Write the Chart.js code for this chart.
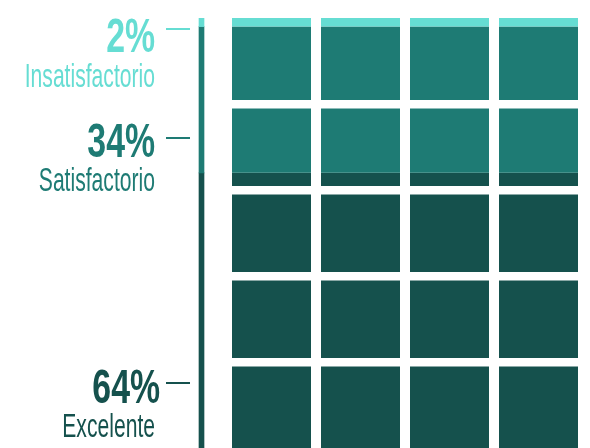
<!DOCTYPE html>
<html><head><meta charset="utf-8">
<script src="https://cdn.jsdelivr.net/npm/chart.js@4.4.1/dist/chart.umd.min.js"></script>
<style>
html,body{margin:0;padding:0;background:#fff;overflow:hidden}
#wrap{position:relative;width:590px;height:448px}
#left{position:absolute;left:0;top:0}
#grid{position:absolute;left:215px;top:0}
</style></head><body>
<div id="wrap"><canvas id="left" width="213" height="448"></canvas><canvas id="grid" width="375" height="448"></canvas></div>
<script>
// ---- data ----
const categories = ['Insatisfactorio', 'Satisfactorio', 'Excelente'];
const percents = [2, 34, 64];
const percentLabels = ['2%', '34%', '64%'];
const waffleColumns = ['c1', 'c2', 'c3', 'c4'];
const rowBreaks = [20, 40, 60, 80]; // each waffle row = 20%

// ---- style ----
const colors = ['#66ddd3', '#1e7b74', '#15514d'];
const labelLayout = [
  { pctY: 52, nameY: 87, dashY: 29, right: 155 },
  { pctY: 157, nameY: 191, dashY: 138, right: 155 },
  { pctY: 403, nameY: 437, dashY: 383, right: 160 }
];
const FONT = '"Liberation Sans", Arial, sans-serif';

function drawScaledText(ctx, text, font, sx, right, y, color) {
  ctx.save();
  ctx.font = font;
  ctx.fillStyle = color;
  ctx.textAlign = 'right';
  ctx.textBaseline = 'alphabetic';
  ctx.scale(sx, 1);
  ctx.fillText(text, right / sx, y);
  ctx.restore();
}

const labelPlugin = {
  id: 'sideLabels',
  afterDraw(chart) {
    const ctx = chart.ctx;
    categories.forEach((name, i) => {
      const L = labelLayout[i];
      drawScaledText(ctx, percentLabels[i], 'bold 49px ' + FONT, 0.69, L.right, L.pctY, colors[i]);
      drawScaledText(ctx, name, '33px ' + FONT, 0.64, 155, L.nameY, colors[i]);
      ctx.save();
      ctx.strokeStyle = colors[i];
      ctx.lineWidth = 2;
      ctx.beginPath();
      ctx.moveTo(166, L.dashY);
      ctx.lineTo(190, L.dashY);
      ctx.stroke();
      ctx.restore();
    });
  }
};

Chart.defaults.animation = false;

new Chart(document.getElementById('left'), {
  type: 'bar',
  data: {
    labels: ['total'],
    datasets: categories.map((c, i) => ({
      label: c, data: [percents[i]], backgroundColor: colors[i],
      borderWidth: 0, barThickness: 5
    }))
  },
  options: {
    responsive: false,
    layout: { padding: { left: 190, top: 18, right: 0, bottom: 0 } },
    plugins: { legend: { display: false }, tooltip: { enabled: false }, title: { display: false } },
    scales: {
      x: { display: false, stacked: true },
      y: { display: false, stacked: true, reverse: true, min: 0, max: 100 }
    }
  },
  plugins: [labelPlugin]
});

new Chart(document.getElementById('grid'), {
  type: 'bar',
  data: {
    labels: waffleColumns,
    datasets: categories.map((c, i) => ({
      label: c, data: waffleColumns.map(() => percents[i]), backgroundColor: colors[i],
      borderWidth: 0, barPercentage: 79 / 89, categoryPercentage: 1
    }))
  },
  options: {
    responsive: false,
    layout: { padding: { left: 12, top: 18, right: 7, bottom: 0 } },
    plugins: { legend: { display: false }, tooltip: { enabled: false }, title: { display: false } },
    scales: {
      x: { display: false, stacked: true },
      y: {
        display: true, stacked: true, reverse: true, min: 0, max: 100,
        afterBuildTicks: (s) => { s.ticks = rowBreaks.map(v => ({ value: v })); },
        ticks: { display: false },
        border: { display: false },
        grid: { color: '#ffffff', lineWidth: 8.5, drawTicks: false, tickLength: 0, z: 1 }
      }
    }
  }
});
</script>
</body></html>
